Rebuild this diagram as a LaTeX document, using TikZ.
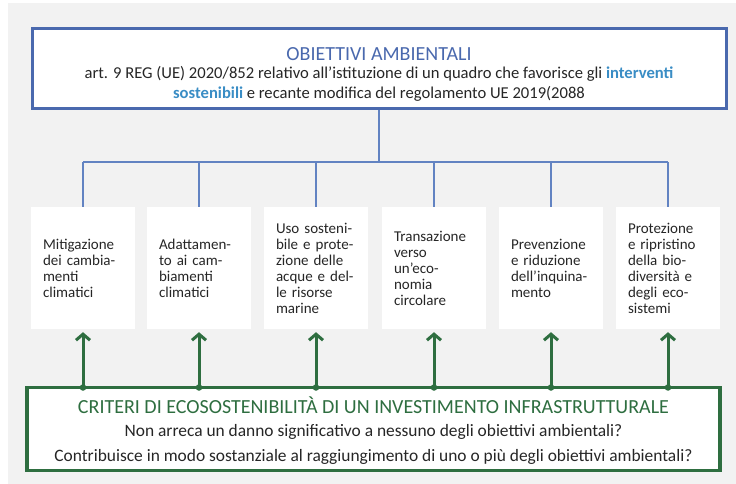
\documentclass[tikz,border=0pt]{standalone}
\usepackage{fontspec}
\setmainfont{Carlito}
\usetikzlibrary{arrows.meta}

\definecolor{bggray}{HTML}{F2F2F2}
\definecolor{objblue}{HTML}{4A69AE}
\definecolor{keyblue}{HTML}{3A8DC5}
\definecolor{linkblue}{HTML}{6283C2}
\definecolor{critgreen}{HTML}{2E6E40}
\definecolor{txtgray}{HTML}{262626}

\begin{document}
\begin{tikzpicture}[x=1pt, y=-1pt]
	\tikzstyle{objbox} = [draw=objblue, line width=3pt, fill=white, minimum width=694pt, minimum height=80pt, align=center, text=txtgray, font=\fontsize{16.6}{20}\selectfont]
	\tikzstyle{critbox} = [draw=critgreen, line width=3.5pt, fill=white, minimum width=693pt, minimum height=83pt, align=center, text=txtgray, font=\fontsize{17.4}{24.5}\selectfont]
	\tikzstyle{goalbox} = [fill=white, minimum width=104pt, minimum height=122pt, text width=80pt, align=left, text=txtgray, font=\fontsize{15}{16}\selectfont]
	\tikzstyle{branch} = [draw=linkblue, line width=1.3pt]
	\tikzstyle{push} = [draw=critgreen, line width=3pt, -{Straight Barb[length=6pt, width=14pt]}, shorten >=3pt]
	\tikzstyle{joint} = [circle, fill=critgreen, inner sep=0pt, minimum size=6.5pt]
	\useasboundingbox (0,0) rectangle (736,484);
	\fill[bggray] (8,3) rectangle (736,484);
	% top box
	\node[objbox] (obj) at (379,69) {{\fontsize{20}{22}\selectfont\color{objblue}\rule{0pt}{24pt}OBIETTIVI AMBIENTALI}\\[-2pt]
		art. 9 REG (UE) 2020/852 relativo all’istituzione di un quadro che favorisce gli {\bfseries\color{keyblue}interventi}\\
		{\bfseries\color{keyblue}sostenibili} e recante modifica del regolamento UE 2019(2088};
	% objectives
	\node[goalbox] (m1) at (83,268) {Mitigazione\\dei cambia-\\menti\\climatici};
	\node[goalbox] (m2) at (199,268) {Adattamen-\\to ai cam-\\biamenti\\climatici};
	\node[goalbox] (m3) at (316,268) {Uso sosteni-\\bile e prote-\\zione delle\\acque e del-\\le risorse\\marine};
	\node[goalbox] (m4) at (434,268) {Transazione\\verso\\un’eco-\\nomia\\circolare};
	\node[goalbox] (m5) at (551,268) {Prevenzione\\e riduzione\\dell’inquina-\\mento};
	\node[goalbox] (m6) at (668,268) {Protezione\\e ripristino\\della bio-\\diversità e\\degli eco-\\sistemi};
	% bottom box
	\node[critbox] (crit) at (373.5,429) {{\fontsize{20}{22}\selectfont\color{critgreen}\rule{0pt}{19pt}CRITERI DI ECOSOSTENIBILITÀ DI UN INVESTIMENTO INFRASTRUTTURALE}\\[-1pt]
		Non arreca un danno significativo a nessuno degli obiettivi ambientali?\\
		Contribuisce in modo sostanziale al raggiungimento di uno o più degli obiettivi ambientali?};
	% tree
	\coordinate (hub) at (379,162);
	\coordinate (t1) at (83,162);
	\coordinate (t2) at (199,162);
	\coordinate (t3) at (316,162);
	\coordinate (t4) at (434,162);
	\coordinate (t5) at (551,162);
	\coordinate (t6) at (668,162);
	\draw[branch] (obj.south) -- (hub);
	\draw[branch] (t1) -- (t6);
	\draw[branch] (t1) -- (m1.north);
	\draw[branch] (t2) -- (m2.north);
	\draw[branch] (t3) -- (m3.north);
	\draw[branch] (t4) -- (m4.north);
	\draw[branch] (t5) -- (m5.north);
	\draw[branch] (t6) -- (m6.north);
	% arrows
	\node[joint] (g1) at (83,387.5) {};
	\node[joint] (g2) at (199,387.5) {};
	\node[joint] (g3) at (316,387.5) {};
	\node[joint] (g4) at (434,387.5) {};
	\node[joint] (g5) at (551,387.5) {};
	\node[joint] (g6) at (668,387.5) {};
	\draw[push] (g1.center) -- (m1.south);
	\draw[push] (g2.center) -- (m2.south);
	\draw[push] (g3.center) -- (m3.south);
	\draw[push] (g4.center) -- (m4.south);
	\draw[push] (g5.center) -- (m5.south);
	\draw[push] (g6.center) -- (m6.south);
\end{tikzpicture}
\end{document}
